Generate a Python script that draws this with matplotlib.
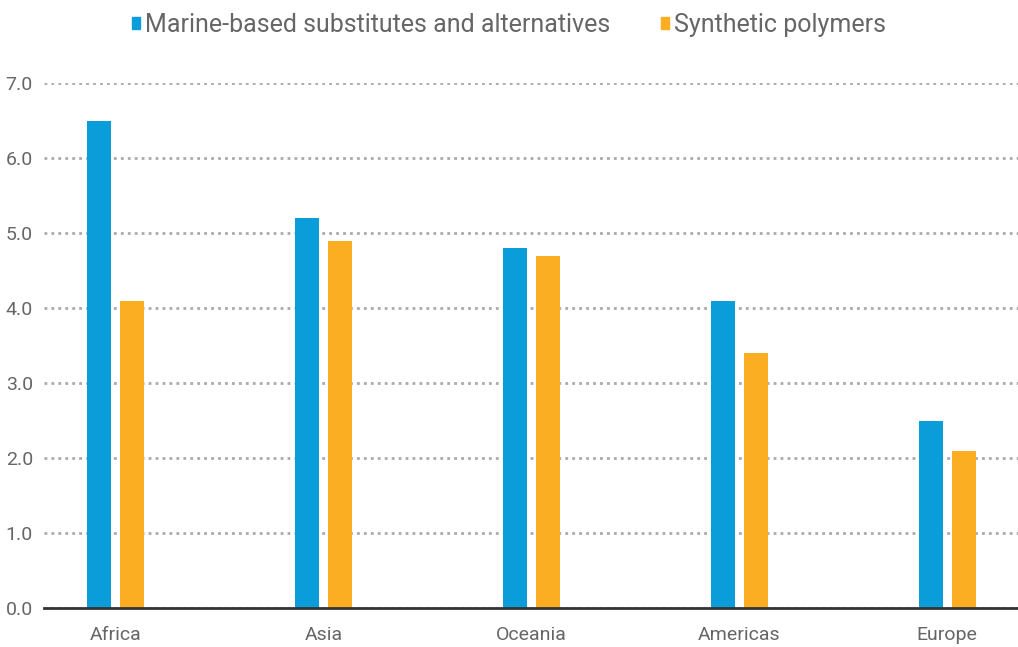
import matplotlib
matplotlib.use("Agg")
import numpy as np
import matplotlib.pyplot as plt
from matplotlib.patches import Patch

# ── data ──────────────────────────────────────────────────────────────────────
regions = ["Africa", "Asia", "Oceania", "Americas", "Europe"]
marine = [6.5, 5.2, 4.8, 4.1, 2.5]
synthetic = [4.1, 4.9, 4.7, 3.4, 2.1]
series_labels = ["Marine-based substitutes and alternatives", "Synthetic polymers"]
yticks = [0.0, 1.0, 2.0, 3.0, 4.0, 5.0, 6.0, 7.0]

BLUE = "#0B9DD9"
ORANGE = "#FBAE22"
TEXT = "#666666"

plt.rcParams["font.family"] = ["Liberation Sans Narrow", "Roboto", "DejaVu Sans"]

fig = plt.figure(figsize=(10.18, 6.47), dpi=100)
ax = fig.add_axes([44 / 1018, 39 / 647, 974 / 1018, 525 / 647])

x = np.arange(len(regions))
w = 0.115
off = 0.079
ax.bar(x - off, marine, w, color=BLUE, zorder=3)
ax.bar(x + off, synthetic, w, color=ORANGE, zorder=3)

ax.set_xlim(-0.344, 4.34)
ax.set_ylim(0, 7.0)
ax.set_yticks(yticks)
ax.set_yticklabels([f"{v:.1f}" for v in yticks])
ax.set_xticks(x)
ax.set_xticklabels(regions)
ax.tick_params(axis="both", length=0, colors=TEXT, labelsize=14)
ax.tick_params(axis="x", pad=13)
ax.tick_params(axis="y", pad=8)

# dotted horizontal grid behind the bars
ax.yaxis.grid(True, ls=(0, (1, 1.5)), lw=2, color="#aaaaaa", zorder=0)
ax.set_axisbelow(True)
for s in ["top", "right", "left"]:
    ax.spines[s].set_visible(False)
ax.spines["bottom"].set_color("#333333")
ax.spines["bottom"].set_linewidth(2)
ax.spines["bottom"].set_zorder(4)

handles = [Patch(color=BLUE), Patch(color=ORANGE)]
fig.legend(handles, series_labels, loc="upper center", bbox_to_anchor=(0.5, 1.015),
           ncol=2, frameon=False, fontsize=18, labelcolor=TEXT,
           handlelength=0.35, handleheight=0.35, handletextpad=0.2,
           columnspacing=2.0)

fig.savefig("out.png", dpi=100)
